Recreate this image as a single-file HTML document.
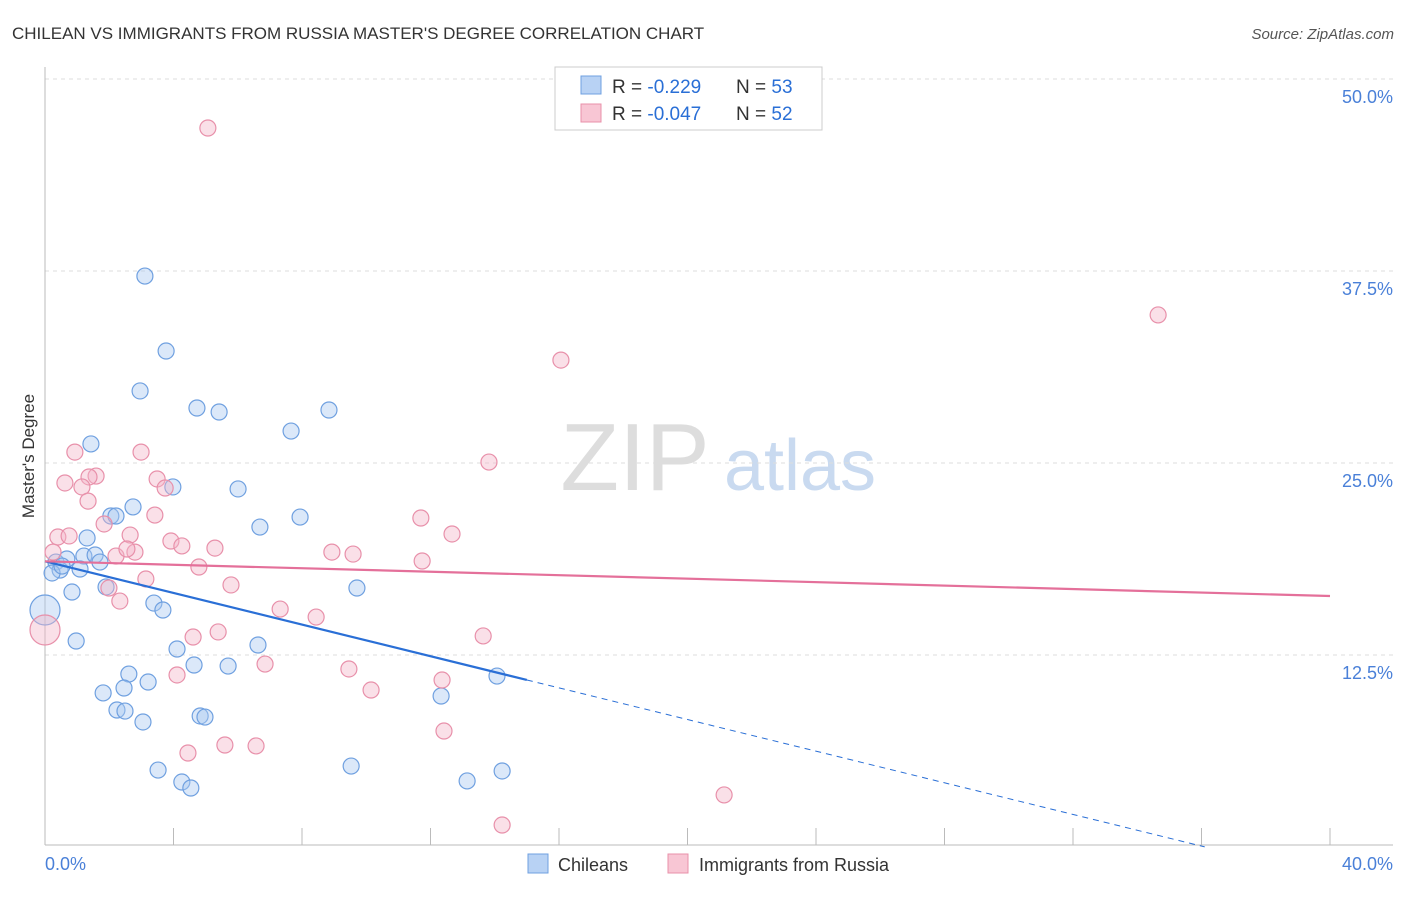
<!DOCTYPE html>
<html><head><meta charset="utf-8"><style>
body{margin:0;background:#fff;font-family:"Liberation Sans",sans-serif;}
svg text{font-family:"Liberation Sans",sans-serif;}
</style></head><body>
<svg id="chart" width="1406" height="892">
<text x="12" y="39" font-size="17" fill="#333">CHILEAN VS IMMIGRANTS FROM RUSSIA MASTER'S DEGREE CORRELATION CHART</text>
<text x="1394" y="39" font-size="15" fill="#555" font-style="italic" text-anchor="end">Source: ZipAtlas.com</text>
<text x="635" y="490" font-size="96" fill="#ddd" font-family="Liberation Serif" text-anchor="middle">ZIP</text>
<text x="800" y="490" font-size="72" fill="#c9daf0" text-anchor="middle">atlas</text>
<g id="grid"></g><g id="axes"></g><g id="pts"></g><g id="lines"></g>
<text x="0" y="0" transform="translate(34,456) rotate(-90)" font-size="17" fill="#333" text-anchor="middle">Master's Degree</text>
<text x="45" y="870" font-size="18" fill="#4a80d8">0.0%</text>
<text x="1393" y="870" font-size="18" fill="#4a80d8" text-anchor="end">40.0%</text>
<g>
<rect x="555" y="67" width="267" height="63" fill="#fff" stroke="#ccc"/>
<rect x="581" y="76" width="20" height="18" fill="#b8d2f4" stroke="#6fa0e0"/>
<text x="612" y="93" font-size="19" fill="#333">R = <tspan fill="#2a6fd6">-0.229</tspan></text>
<text x="736" y="93" font-size="19" fill="#333">N = <tspan fill="#2a6fd6">53</tspan></text>
<rect x="581" y="104" width="20" height="18" fill="#f8c6d4" stroke="#e890aa"/>
<text x="612" y="120" font-size="19" fill="#333">R = <tspan fill="#2a6fd6">-0.047</tspan></text>
<text x="736" y="120" font-size="19" fill="#333">N = <tspan fill="#2a6fd6">52</tspan></text>
</g>
<g>
<rect x="528" y="854" width="20" height="19" fill="#b8d2f4" stroke="#6fa0e0"/>
<text x="558" y="871" font-size="18" fill="#333">Chileans</text>
<rect x="668" y="854" width="20" height="19" fill="#f8c6d4" stroke="#e890aa"/>
<text x="699" y="871" font-size="18" fill="#333">Immigrants from Russia</text>
</g>
</svg>
<script>
const yTicks=[12.5,25,37.5,50];
const yTickLabels=["12.5%","25.0%","37.5%","50.0%"];
const xTicks=[0,4,8,12,16,20,24,28,32,36,40];
const blueX=[3.11,3.77,2.96,4.73,5.42,8.84,7.66,1.43,3.98,6.01,2.74,2.05,2.21,7.94,6.69,1.31,0.34,0.68,1.21,1.56,1.71,1.09,0.47,0.22,0.84,1.90,9.71,3.39,3.67,0,0.97,6.63,4.11,4.64,5.70,2.61,2.46,3.21,1.81,12.33,14.07,2.24,2.49,3.05,4.83,4.98,3.52,4.26,4.54,9.53,13.14,14.23,0.53];
const blueY=[37.17,32.29,29.69,28.58,28.32,28.45,27.08,26.24,23.44,23.31,22.14,21.55,21.55,21.48,20.83,20.12,18.55,18.75,18.94,19.01,18.55,18.10,18.03,17.84,16.60,16.93,16.86,15.88,15.43,15.43,13.41,13.15,12.89,11.85,11.78,11.26,10.35,10.74,10.03,9.83,11.13,8.92,8.85,8.14,8.53,8.46,5.01,4.23,3.84,5.27,4.30,4.95,18.29];
const pinkX=[5.07,34.65,16.06,13.82,0.93,2.99,1.59,1.37,0.62,1.15,3.49,3.74,1.34,3.42,1.84,11.70,12.67,2.65,0.40,0.75,3.92,4.26,5.29,8.93,9.59,2.80,2.21,2.55,0.25,4.79,11.74,3.14,5.79,1.99,2.33,7.32,8.44,5.39,4.61,13.64,0,6.85,9.46,4.11,12.36,10.15,5.60,6.57,4.45,12.42,21.14,14.23];
const pinkY=[46.81,34.64,31.70,25.06,25.71,25.71,24.15,24.09,23.70,23.44,23.96,23.37,22.52,21.61,21.03,21.42,20.38,20.31,20.18,20.25,19.92,19.60,19.46,19.20,19.07,19.20,18.94,19.40,19.20,18.23,18.62,17.45,17.06,16.86,16.01,15.49,14.97,14.00,13.67,13.74,14.13,11.91,11.59,11.20,10.87,10.22,6.64,6.58,6.12,7.55,3.39,1.43];
const blueLine=[18.6,-0.515];
const pinkLine=[18.6,-0.0565];
const NS="http://www.w3.org/2000/svg";
const X=v=>45+v/40*1285, Y=v=>847-v/12.5*192;
function mk(tag,attrs,parent){const e=document.createElementNS(NS,tag);for(const k in attrs)e.setAttribute(k,attrs[k]);document.getElementById(parent).appendChild(e);return e;}
yTicks.forEach((t,i)=>{
 const l=mk('line',{x1:45,x2:1393,y1:Y(t),y2:Y(t),stroke:'#ddd','stroke-dasharray':'4,4'},'grid');
 
 
 const tx=mk('text',{x:1393,y:Y(t)+24,'font-size':18,fill:'#4a80d8','text-anchor':'end'},'grid');
 tx.textContent=yTickLabels[i];
 
 
});
let a=mk('line',{x1:45,x2:45,y1:67,y2:845,stroke:'#bbb'},'axes');


a=mk('line',{x1:45,x2:1393,y1:845,y2:845,stroke:'#bbb'},'axes');


xTicks.forEach(t=>{const l=mk('line',{x1:X(t),x2:X(t),y1:828,y2:845,stroke:'#bbb'},'axes');
 
 });
function pts(xs,ys,fill,stroke,name){xs.forEach((x,i)=>{const r=(x===0)?15:8;
 const c=mk('circle',{cx:X(x),cy:Y(ys[i]),r:r,fill:fill,'fill-opacity':0.42,stroke:stroke,'stroke-width':1.2},'pts');
 
 });}
pts(blueX,blueY,'#a9c8f0','#6fa0e0','chileans-point');
pts(pinkX,pinkY,'#f4b6c8','#e890aa','russia-point');
const bl=v=>blueLine[0]+blueLine[1]*v, pl=v=>pinkLine[0]+pinkLine[1]*v;
let ln=mk('line',{x1:X(0),y1:Y(bl(0)),x2:X(15),y2:Y(bl(15)),stroke:'#2a6fd6','stroke-width':2.2},'lines');


ln=mk('line',{x1:X(15),y1:Y(bl(15)),x2:X(36.1),y2:Y(bl(36.1)),stroke:'#2a6fd6','stroke-width':1,'stroke-dasharray':'6,5'},'lines');


ln=mk('line',{x1:X(0),y1:Y(pl(0)),x2:X(40),y2:Y(pl(40)),stroke:'#e4709a','stroke-width':2.2},'lines');


</script>
</body></html>
